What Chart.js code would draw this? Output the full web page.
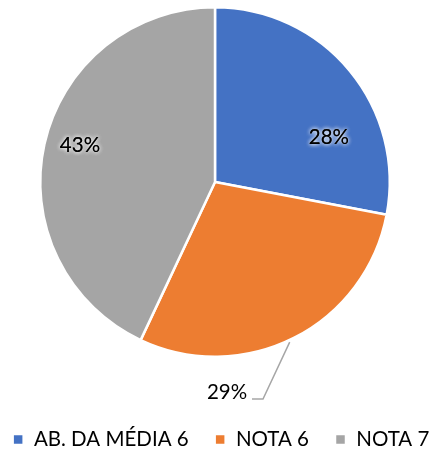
<!DOCTYPE html>
<html><head><meta charset="utf-8">
<script src="https://cdn.jsdelivr.net/npm/chart.js@4/dist/chart.umd.min.js"></script>
<style>html,body{margin:0;padding:0;background:#fff}#wrap{width:430px;height:452px;position:relative}</style>
</head><body><div id="wrap"><canvas id="c" width="430" height="452"></canvas></div>
<script>
const categories = ["AB. DA MÉDIA 6", "NOTA 6", "NOTA 7"];
const values = [28, 29, 43];
const colors = ["#4472C4", "#ED7D31", "#A5A5A5"];
const FONT = "Lato, 'Open Sans', sans-serif";

const labelPlugin = {
  id: 'pctLabels',
  afterLayout(chart) {
    const lg = chart.legend;
    if (lg) { lg.left += 6; lg.right += 6; }
  },
  afterDatasetsDraw(chart) {
    const ctx = chart.ctx;
    const meta = chart.getDatasetMeta(0);
    const total = values.reduce((a, b) => a + b, 0);
    ctx.save();
    ctx.font = "20.5px " + FONT;
    ctx.textAlign = 'center';
    ctx.textBaseline = 'middle';
    // placement: [angle from 12 o'clock in deg, radius factor]; null = outside with leader line
    const place = [[68.6, 0.70], null, [-75, 0.80]];
    meta.data.forEach((arc, i) => {
      const txt = Math.round(values[i] / total * 100) + '%';
      const cx = arc.x, cy = arc.y, r = arc.outerRadius;
      if (place[i]) {
        const a = place[i][0] * Math.PI / 180;
        const x = cx + Math.sin(a) * r * place[i][1];
        const y = cy - Math.cos(a) * r * place[i][1];
        ctx.shadowColor = 'rgba(255,255,255,0.95)';
        ctx.shadowBlur = 4;
        ctx.fillStyle = '#000';
        ctx.fillText(txt, x, y);
        ctx.fillText(txt, x, y);
        ctx.shadowBlur = 0;
      } else {
        const a = 155 * Math.PI / 180;
        const x1 = cx + Math.sin(a) * (r + 2), y1 = cy - Math.cos(a) * (r + 2);
        const x2 = cx + 48, y2 = cy + 217;
        ctx.strokeStyle = '#A6A6A6';
        ctx.lineWidth = 1.5;
        ctx.beginPath();
        ctx.moveTo(x1, y1); ctx.lineTo(x2, y2); ctx.lineTo(x2 - 11, y2);
        ctx.stroke();
        ctx.fillStyle = '#000';
        ctx.fillText(txt, cx + 12, cy + 210);
      }
    });
    ctx.restore();
  }
};

new Chart(document.getElementById('c'), {
  type: 'pie',
  data: {
    labels: categories,
    datasets: [{ data: values, backgroundColor: colors, borderColor: '#fff', borderWidth: 2.5, hoverOffset: 0 }]
  },
  options: {
    responsive: false,
    animation: false,
    layout: { padding: { top: 6, bottom: -7.75, left: -25, right: -25 } },
    plugins: {
      tooltip: { enabled: false },
      legend: {
        position: 'bottom',
        title: { display: true, text: '', font: { size: 10, lineHeight: 1.2 }, padding: { top: 33.25, bottom: 0 } },
        labels: {
          font: { family: FONT, size: 20.5 },
          color: '#000',
          usePointStyle: true,
          pointStyle: 'rect',
          boxWidth: 11, boxHeight: 11,
          padding: 26
        }
      }
    }
  },
  plugins: [labelPlugin]
});
</script></body></html>
